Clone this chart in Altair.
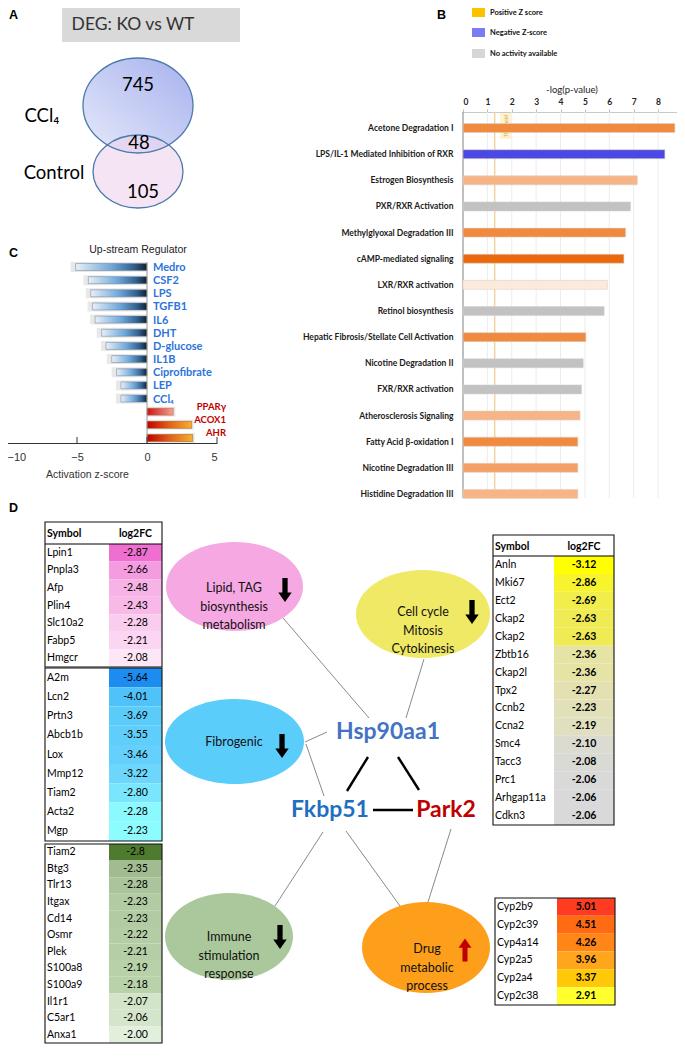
import altair as alt
import pandas as pd

# ============================ DATA ============================
# A: Venn diagram
venn_title = "DEG: KO vs WT"
venn_sets = ["CCl₄", "Control"]
venn_counts = [745, 48, 105]          # CCl4 only, shared, Control only

# B: canonical pathways
pathways = ["Acetone Degradation I", "LPS/IL-1 Mediated Inhibition of RXR",
            "Estrogen Biosynthesis", "PXR/RXR Activation",
            "Methylglyoxal Degradation III", "cAMP-mediated signaling",
            "LXR/RXR activation", "Retinol biosynthesis",
            "Hepatic Fibrosis/Stellate Cell Activation", "Nicotine Degradation II",
            "FXR/RXR activation", "Atherosclerosis Signaling",
            "Fatty Acid β-oxidation I", "Nicotine Degradation III",
            "Histidine Degradation III"]
neg_log_p = [8.69, 8.28, 7.15, 6.87, 6.67, 6.60, 5.92, 5.79, 5.04, 4.93, 4.86, 4.80, 4.71, 4.71, 4.71]
z_scores = [2.0, -2.4, 1.0, None, 2.0, 2.8, 0.2, None, 2.0, None, None, 1.0, 2.0, 1.6, 1.0]
p_threshold = 1.3
b_ticks = [0, 1, 2, 3, 4, 5, 6, 7, 8]
b_legend = ["Positive Z score", "Negative Z-score", "No activity available"]

# C: upstream regulators
regulators = ["Medro", "CSF2", "LPS", "TGFB1", "IL6", "DHT", "D-glucose", "IL1B",
              "Ciprofibrate", "LEP", "CCl₄", "PPARγ", "ACOX1", "AHR"]
activation_z = [-5.10, -4.19, -4.02, -3.90, -3.71, -3.24, -2.93, -2.52, -2.17, -1.86, -1.86, 1.88, 3.19, 3.26]
c_ticks = [-10, -5, 0, 5]

# D: gene tables
lipid_genes = ["Lpin1", "Pnpla3", "Afp", "Plin4", "Slc10a2", "Fabp5", "Hmgcr"]
lipid_fc = ["-2.87", "-2.66", "-2.48", "-2.43", "-2.28", "-2.21", "-2.08"]
fibro_genes = ["A2m", "Lcn2", "Prtn3", "Abcb1b", "Lox", "Mmp12", "Tiam2", "Acta2", "Mgp"]
fibro_fc = ["-5.64", "-4.01", "-3.69", "-3.55", "-3.46", "-3.22", "-2.80", "-2.28", "-2.23"]
immune_genes = ["Tiam2", "Btg3", "Tlr13", "Itgax", "Cd14", "Osmr", "Plek", "S100a8",
                "S100a9", "Il1r1", "C5ar1", "Anxa1"]
immune_fc = ["-2.8", "-2.35", "-2.28", "-2.23", "-2.23", "-2.22", "-2.21", "-2.19",
             "-2.18", "-2.07", "-2.06", "-2.00"]
cycle_genes = ["Anln", "Mki67", "Ect2", "Ckap2", "Ckap2", "Zbtb16", "Ckap2l", "Tpx2",
               "Ccnb2", "Ccna2", "Smc4", "Tacc3", "Prc1", "Arhgap11a", "Cdkn3"]
cycle_fc = ["-3.12", "-2.86", "-2.69", "-2.63", "-2.63", "-2.36", "-2.36", "-2.27",
            "-2.23", "-2.19", "-2.10", "-2.08", "-2.06", "-2.06", "-2.06"]
drug_genes = ["Cyp2b9", "Cyp2c39", "Cyp4a14", "Cyp2a5", "Cyp2a4", "Cyp2c38"]
drug_fc = ["5.01", "4.51", "4.26", "3.96", "3.37", "2.91"]

# D: network
process_labels = ["Lipid, TAG\nbiosynthesis\nmetabolism", "Cell cycle\nMitosis\nCytokinesis",
                  "Fibrogenic", "Immune\nstimulation\nresponse", "Drug\nmetabolic\nprocess"]
process_direction = ["down", "down", "down", "down", "up"]
hub_genes = ["Hsp90aa1", "Fkbp51", "Park2"]

# ============================ LAYOUT (image pixels) ============================
IMG_W, IMG_H, M = 685, 1057, 8
W, H = IMG_W - 2 * M, IMG_H - 2 * M


def px(v):
    return v - M


CX = alt.Scale(domain=[0, IMG_W], range=[-M, IMG_W - M], nice=False, zero=False)
CY = alt.Scale(domain=[0, IMG_H], range=[-M, IMG_H - M], nice=False, zero=False)


def X(f):
    return alt.X(f, type="quantitative", scale=CX, axis=None)


def Y(f):
    return alt.Y(f, type="quantitative", scale=CY, axis=None)


CAL = "Lato"
ARIAL = "Liberation Sans"
layers = []

# ---- panel letters ----
letters = pd.DataFrame({"t": ["A", "B", "C", "D"], "x": [9, 437, 9, 9], "y": [9, 9, 247, 502]})
layers.append(alt.Chart(letters).mark_text(font=ARIAL, fontWeight="bold", fontSize=12.5, color="black",
                                           align="left", baseline="top")
              .encode(x=X("x"), y=Y("y"), text="t:N"))


def ellipse_path(r):
    return f"M -1 0 A 1 {r:.4f} 0 1 1 1 0 A 1 {r:.4f} 0 1 1 -1 0 Z"


def ellipse(cx_, cy_, w, h, **kw):
    df = pd.DataFrame({"x": [cx_], "y": [cy_]})
    return alt.Chart(df).mark_point(shape=ellipse_path(h / w), size=w * w, opacity=1, **kw).encode(
        x=X("x"), y=Y("y"))


# ================= A: Venn =================
layers.append(alt.Chart(pd.DataFrame({"x": [62], "x2": [240], "y": [8], "y2": [42]}))
              .mark_rect(color="#d9d9d9").encode(x=X("x"), x2="x2:Q", y=Y("y"), y2="y2:Q"))
layers.append(alt.Chart(pd.DataFrame({"t": [venn_title], "x": [133], "y": [25]}))
              .mark_text(font=CAL, fontSize=17.5, color="#333333").encode(x=X("x"), y=Y("y"), text="t:N"))
ccl_grad = alt.Gradient(gradient="linear", x1=0, y1=1, x2=1, y2=0,
                        stops=[alt.GradientStop(color="#e6e9fa", offset=0),
                               alt.GradientStop(color="#a6b1ee", offset=1)])
venn_geo = {"CCl": (138, 105.5, 110, 95), "Ctl": (138, 171.5, 90, 73)}
layers.append(ellipse(*venn_geo["CCl"], filled=True, fill=ccl_grad, strokeWidth=0))
layers.append(ellipse(*venn_geo["Ctl"], filled=True, fill="#efd3ec", fillOpacity=0.6, strokeWidth=0))
for k in ["CCl", "Ctl"]:
    layers.append(ellipse(*venn_geo[k], filled=False, stroke="#4a7aab", strokeWidth=1.3))
venn_txt = pd.DataFrame({
    "t": [str(c) for c in venn_counts] + venn_sets,
    "x": [138, 139, 143, 42, 54],
    "y": [85, 143, 192, 116, 173]})
layers.append(alt.Chart(venn_txt).mark_text(font=CAL, fontSize=18.5, color="black")
              .encode(x=X("x"), y=Y("y"), text="t:N"))

# ================= B: pathways =================
dfB = pd.DataFrame({"pathway": pathways, "p": neg_log_p, "z": z_scores})
XB = alt.Scale(domain=[0, 8.9], range=[px(463), px(680)], nice=False, zero=False)
YB = alt.Scale(domain=pathways, range=[px(115), px(507)], paddingInner=0, paddingOuter=0)
ZB = alt.Scale(domain=[-2.4, 0, 0.2, 1.0, 1.6, 2.0, 2.8],
               range=["#4b49e3", "#f6f6f6", "#fcebdc", "#f7b587", "#f39f66", "#ef8a3f", "#e8690e"],
               interpolate="rgb")

# legend
legB = pd.DataFrame({"lab": b_legend, "x0": [472] * 3, "x1": [485] * 3,
                     "y0": [8, 28, 49], "y1": [17, 37, 58], "tx": [490] * 3, "ty": [12.5, 32.5, 53.5]})
layers.append(alt.Chart(legB).mark_rect().encode(
    x=X("x0"), x2="x1:Q", y=Y("y0"), y2="y1:Q",
    color=alt.Color("lab:N", scale=alt.Scale(domain=b_legend, range=["#ffc000", "#7b7bf2", "#d6d6d6"]),
                    legend=None)))
layers.append(alt.Chart(legB).mark_text(font=CAL, fontWeight="bold", fontSize=7.5, align="left", color="#111")
              .encode(x=X("tx"), y=Y("ty"), text="lab:N"))

# grid + threshold + left line
layers.append(alt.Chart(pd.DataFrame({"t": b_ticks[1:]})).mark_rule(color="#ececec", strokeWidth=1)
              .encode(x=alt.X("t:Q", scale=XB, axis=None), y=alt.value(px(112)), y2=alt.value(px(498))))
layers.append(alt.Chart(pd.DataFrame({"t": [p_threshold]})).mark_rule(color="#f2d4a2", strokeWidth=1.5)
              .encode(x=alt.X("t:Q", scale=XB, axis=None), y=alt.value(px(112)), y2=alt.value(px(498))))
layers.append(alt.Chart(pd.DataFrame({"x": [500], "x2": [511], "y": [113], "y2": [139]}))
              .mark_rect(color="#fff1c2", opacity=0.8).encode(x=X("x"), x2="x2:Q", y=Y("y"), y2="y2:Q"))
layers.append(alt.Chart(pd.DataFrame({"t": ["Threshold"], "x": [505.5], "y": [126]}))
              .mark_text(font=CAL, fontSize=5, angle=270, color="#d4a64a").encode(x=X("x"), y=Y("y"), text="t:N"))
layers.append(alt.Chart(pd.DataFrame({"t": [0]})).mark_rule(color="#808080", strokeWidth=1)
              .encode(x=alt.X("t:Q", scale=XB, axis=None), y=alt.value(px(112)), y2=alt.value(px(498))))

layers.append(alt.Chart(dfB).transform_filter("!isValid(datum.z)")
              .mark_bar(size=9, color="#c2c2c2", stroke="#d0d0d0", strokeWidth=0.5)
              .encode(x=alt.X("p:Q", scale=XB, axis=None), x2=alt.datum(0),
                      y=alt.Y("pathway:N", scale=YB, axis=None)))
layers.append(alt.Chart(dfB).transform_filter("isValid(datum.z)")
              .mark_bar(size=9, stroke="#dcd2c8", strokeWidth=0.6)
              .encode(x=alt.X("p:Q", scale=XB,
                              axis=alt.Axis(orient="top", offset=-px(112), values=b_ticks, format="d",
                                            tickSize=3, tickColor="#bdbdbd", domainColor="#c8c8c8",
                                            labelFont=CAL, labelFontWeight="bold", labelFontSize=8.5,
                                            labelColor="#222", labelPadding=3, grid=False,
                                            title="-log(p-value)", titleFont=CAL, titleFontWeight="normal",
                                            titleFontSize=9.5, titleColor="#222", titlePadding=3)),
                      x2=alt.datum(0),
                      y=alt.Y("pathway:N", scale=YB,
                              axis=alt.Axis(orient="left", offset=-px(463), domain=False, ticks=False,
                                            labelPadding=10, labelFont=CAL, labelFontWeight="bold",
                                            labelFontSize=8.5, labelColor="#1a1a1a", labelLimit=400,
                                            title=None, grid=False)),
                      color=alt.Color("z:Q", scale=ZB, legend=None)))

# ================= C: upstream regulators =================
dfC = pd.DataFrame({"reg": regulators, "z": activation_z})
XC = alt.Scale(domain=[-10, 5], range=[px(7), px(217)], nice=False, zero=False)
YC = alt.Scale(domain=regulators, range=[px(260.4), px(444.6)], paddingInner=0, paddingOuter=0)
ycC = alt.Y("reg:N", scale=YC, axis=None)

layers.append(alt.Chart(pd.DataFrame({"t": ["Up-stream Regulator"], "x": [138], "y": [250]}))
              .mark_text(font=ARIAL, fontSize=10.5, color="#222").encode(x=X("x"), y=Y("y"), text="t:N"))
# shadow
layers.append(alt.Chart(dfC).transform_calculate(zs="datum.z < 0 ? datum.z - 0.35 : datum.z + 0.15")
              .mark_bar(size=10, color="#bdbdbd", opacity=0.35)
              .encode(x=alt.X("zs:Q", scale=XC, axis=None), x2=alt.datum(0), y=ycC))
blue_grad = alt.Gradient(gradient="linear", x1=0, y1=0, x2=1, y2=0,
                         stops=[alt.GradientStop(color="#e9f0f7", offset=0),
                                alt.GradientStop(color="#6ea8dc", offset=0.5),
                                alt.GradientStop(color="#2f5f8e", offset=0.82),
                                alt.GradientStop(color="#141e2b", offset=1)])
red_grad = alt.Gradient(gradient="linear", x1=0, y1=0, x2=1, y2=0,
                        stops=[alt.GradientStop(color="#c00000", offset=0),
                               alt.GradientStop(color="#e2601a", offset=0.5),
                               alt.GradientStop(color="#f8b02e", offset=1)])
pink_grad = alt.Gradient(gradient="linear", x1=0, y1=0, x2=1, y2=0,
                         stops=[alt.GradientStop(color="#c81414", offset=0),
                                alt.GradientStop(color="#f4a28c", offset=1)])
layers.append(alt.Chart(dfC).transform_filter("datum.z < 0")
              .mark_bar(size=7, fill=blue_grad, stroke="#6d7d8e", strokeWidth=0.5)
              .encode(x=alt.X("z:Q", scale=XC,
                              axis=alt.Axis(orient="bottom", offset=px(443) - H, values=c_ticks,
                                            ticks=False, domainColor="#333", domainWidth=1,
                                            labelFont=ARIAL, labelFontSize=11, labelColor="#333",
                                            labelPadding=8, grid=False,
                                            title="Activation z-score", titleFont=ARIAL,
                                            titleFontSize=10.5, titleFontWeight="normal",
                                            titleColor="#333", titlePadding=7, titleX=px(87))),
                      x2=alt.datum(0), y=ycC))
layers.append(alt.Chart(dfC).transform_filter("datum.z > 0 && datum.reg != 'PPARγ'")
              .mark_bar(size=7, fill=red_grad, stroke="#9a5a10", strokeWidth=0.5)
              .encode(x=alt.X("z:Q", scale=XC, axis=None), x2=alt.datum(0), y=ycC))
layers.append(alt.Chart(dfC).transform_filter("datum.reg == 'PPARγ'")
              .mark_bar(size=7, fill=pink_grad, stroke="#b06050", strokeWidth=0.5)
              .encode(x=alt.X("z:Q", scale=XC, axis=None), x2=alt.datum(0), y=ycC))
layers.append(alt.Chart(pd.DataFrame({"t": [0]})).mark_rule(color="#9a9a9a", strokeWidth=1)
              .encode(x=alt.X("t:Q", scale=XC, axis=None), y=alt.value(px(262)), y2=alt.value(px(443))))
layers.append(alt.Chart(pd.DataFrame({"t": c_ticks})).mark_rule(color="#333", strokeWidth=1)
              .encode(x=alt.X("t:Q", scale=XC, axis=None), y=alt.value(px(437)), y2=alt.value(px(443))))
layers.append(alt.Chart(dfC).transform_filter("datum.z < 0")
              .mark_text(font=CAL, fontWeight="bold", fontSize=11, align="left", dx=6, dy=1, color="#2e74da")
              .encode(x=alt.X("zero:Q", scale=XC, axis=None), y=ycC, text="reg:N")
              .transform_calculate(zero="0"))
layers.append(alt.Chart(dfC).transform_filter("datum.z > 0")
              .mark_text(font=CAL, fontWeight="bold", fontSize=9.5, align="right", dy=-5, color="#c00000")
              .encode(x=alt.value(px(226)), y=ycC, text="reg:N"))


# ================= D: tables =================
def table(genes, fc, top, bottom, x_left, x_val0, x_right, cscale, bold_vals, header_top=None):
    out = []
    n = len(genes)
    df = pd.DataFrame({"i": list(range(n)), "sym": genes, "lab": fc, "v": [float(s) for s in fc]})
    ys = alt.Scale(domain=list(range(n)), range=[px(top), px(bottom)], paddingInner=0, paddingOuter=0)
    yenc = alt.Y("i:O", scale=ys, axis=None)
    xc = (x_val0 + x_right) / 2
    out.append(alt.Chart(df).mark_rect().encode(
        x=alt.value(px(x_val0)), x2=alt.value(px(x_right)), y=yenc,
        color=alt.Color("v:Q", scale=cscale, legend=None)))
    out.append(alt.Chart(df).mark_text(font=CAL, fontSize=10.5, align="left", color="black")
               .encode(x=alt.value(px(x_left + 2)), y=yenc, text="sym:N"))
    out.append(alt.Chart(df).mark_text(font=CAL, fontSize=10.5, fontWeight="bold" if bold_vals else "normal",
                                       color="black")
               .encode(x=alt.value(px(xc)), y=yenc, text="lab:N"))
    t0 = header_top if header_top is not None else top
    if header_top is not None:
        hdr = pd.DataFrame({"t": ["Symbol", "log2FC"], "x": [x_left + 2, xc],
                            "y": [(header_top + top) / 2 + 1] * 2})
        out.append(alt.Chart(hdr.iloc[[0]]).mark_text(font=CAL, fontSize=10.5, fontWeight="bold", align="left")
                   .encode(x=X("x"), y=Y("y"), text="t:N"))
        out.append(alt.Chart(hdr.iloc[[1]]).mark_text(font=CAL, fontSize=10.5, fontWeight="bold")
                   .encode(x=X("x"), y=Y("y"), text="t:N"))
        out.append(alt.Chart(pd.DataFrame({"x": [x_left], "x2": [x_right], "y": [top]}))
                   .mark_rule(color="black", strokeWidth=1).encode(x=X("x"), x2="x2:Q", y=Y("y")))
    out.append(alt.Chart(pd.DataFrame({"x": [x_left], "x2": [x_right], "y": [t0], "y2": [bottom]}))
               .mark_rect(fillOpacity=0, stroke="#111", strokeWidth=1.1)
               .encode(x=X("x"), x2="x2:Q", y=Y("y"), y2="y2:Q"))
    return out


pink_s = alt.Scale(domain=[-2.87, -2.66, -2.08], range=["#ef6fd1", "#f59bdf", "#fde6f6"], interpolate="rgb")
blue_s = alt.Scale(domain=[-5.64, -4.01, -3.22, -2.23], range=["#1c8cf0", "#4fc3f9", "#6dd6fc", "#8cfcff"],
                   interpolate="rgb")
green_s = alt.Scale(domain=[-2.8, -2.35, -2.18, -2.0], range=["#4e7b2f", "#a2bb91", "#b9d2aa", "#e3efdd"],
                    interpolate="rgb")
yellow_s = alt.Scale(domain=[-3.12, -2.63, -2.36, -2.19, -2.06],
                     range=["#ffff00", "#efeb55", "#e6e4a4", "#e0dfbf", "#d9d9d9"], interpolate="rgb")
orange_s = alt.Scale(domain=[2.91, 3.37, 3.96, 4.51, 5.01],
                     range=["#ffff2e", "#ffc90a", "#ffa61c", "#ff6b12", "#ff3c22"], interpolate="rgb")

layers += table(lipid_genes, lipid_fc, 544, 667, 45, 109, 162, pink_s, False, header_top=522)
layers += table(fibro_genes, fibro_fc, 668, 841, 45, 109, 162, blue_s, False)
layers += table(immune_genes, immune_fc, 844, 1043, 45, 109, 162, green_s, False)
layers += table(cycle_genes, cycle_fc, 556, 825, 493, 554, 614, yellow_s, True, header_top=535)
layers += table(drug_genes, drug_fc, 898, 1005, 495, 557, 615, orange_s, True)

# ================= D: network =================
thin_edges = pd.DataFrame({"x": [283, 424, 305, 306, 323, 346, 451],
                           "y": [618, 659, 742, 744, 832, 831, 829],
                           "x2": [369, 406, 327, 324, 275, 400, 428],
                           "y2": [718, 718, 732, 796, 906, 906, 902]})
thick_edges = pd.DataFrame({"x": [368, 398, 373], "y": [757, 757, 810],
                            "x2": [347, 419, 413], "y2": [791, 790, 810]})
layers.append(alt.Chart(thin_edges).mark_rule(color="#8a8a8a", strokeWidth=1)
              .encode(x=X("x"), y=Y("y"), x2="x2:Q", y2="y2:Q"))
layers.append(alt.Chart(thick_edges).mark_rule(color="black", strokeWidth=2.4)
              .encode(x=X("x"), y=Y("y"), x2="x2:Q", y2="y2:Q"))

proc_geo = [(234.5, 586.5, 137, 89, "#f5a8e1"), (423, 614, 134, 88, "#efe965"),
            (234.5, 741.5, 139, 85, "#5acdfb"), (229, 936.5, 128, 87, "#aac89b"),
            (426, 947.5, 128, 91, "#fd9f1a")]
for (ex, ey, ew, eh, col) in proc_geo:
    layers.append(ellipse(ex, ey, ew, eh, filled=True, fill=col, strokeWidth=0))

proc_txt = pd.DataFrame({"t": process_labels, "x": [234, 423, 234, 229, 427], "y": [588, 612, 742, 937, 949]})
layers.append(alt.Chart(proc_txt).mark_text(font=CAL, fontSize=12.5, lineBreak="\n", lineHeight=18.5,
                                            color="#111").encode(x=X("x"), y=Y("y"), text="t:N"))

arrow_down = "M -0.22 -1 L 0.22 -1 L 0.22 0.2 L 0.56 0.2 L 0 1 L -0.56 0.2 L -0.22 0.2 Z"
arrow_up = "M -0.22 1 L 0.22 1 L 0.22 -0.2 L 0.56 -0.2 L 0 -1 L -0.56 -0.2 L -0.22 -0.2 Z"
arr = pd.DataFrame({"d": process_direction, "x": [285, 472, 282, 280, 465], "y": [590, 612, 746, 937, 950]})
layers.append(alt.Chart(arr).transform_filter("datum.d == 'down'")
              .mark_point(shape=arrow_down, size=24 * 24, filled=True, fill="black", opacity=1, strokeWidth=0)
              .encode(x=X("x"), y=Y("y")))
layers.append(alt.Chart(arr).transform_filter("datum.d == 'up'")
              .mark_point(shape=arrow_up, size=23 * 23, filled=True, fill="#c00000", opacity=1, strokeWidth=0)
              .encode(x=X("x"), y=Y("y")))

hubs = pd.DataFrame({"t": hub_genes, "x": [388, 330, 446], "y": [732, 810, 810]})
layers.append(alt.Chart(hubs).mark_text(font=CAL, fontWeight="bold", fontSize=23).encode(
    x=X("x"), y=Y("y"), text="t:N",
    color=alt.Color("t:N", scale=alt.Scale(domain=hub_genes, range=["#4472c4", "#1f6fc0", "#c00000"]),
                    legend=None)))

chart = (alt.layer(*layers)
         .resolve_scale(x="independent", y="independent", color="independent")
         .properties(width=W, height=H, padding=0, autosize=alt.AutoSizeParams(type="none"))
         .configure_view(strokeWidth=0))

chart.save("out.html", embed_options={"renderer": "svg", "actions": False})
